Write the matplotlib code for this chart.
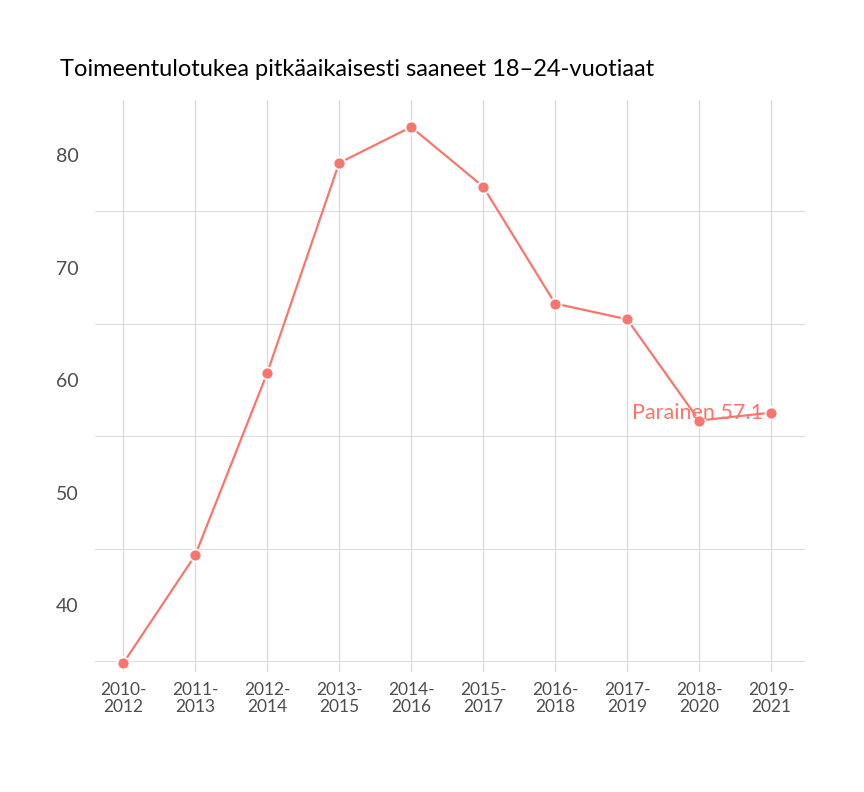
import matplotlib
matplotlib.use("Agg")
import matplotlib.pyplot as plt

periods = ["2010-\n2012","2011-\n2013","2012-\n2014","2013-\n2015","2014-\n2016",
           "2015-\n2017","2016-\n2018","2017-\n2019","2018-\n2020","2019-\n2021"]
values = [34.8, 44.4, 60.6, 79.3, 82.5, 77.2, 66.8, 65.4, 56.4, 57.1]
label = "Parainen 57.1"
title = "Toimeentulotukea pitkäaikaisesti saaneet 18–24-vuotiaat"

plt.rcParams['font.family'] = ['Lato', 'DejaVu Sans']
fig = plt.figure(figsize=(8.64, 7.92), dpi=100)
ax = fig.add_axes([95/864, 1-672/792, 710/864, 572/792])
col = "#F8766D"
x = list(range(len(values)))
ax.plot(x, values, color=col, lw=1.6, zorder=3)
ax.scatter(x, values, s=75, color=col, edgecolor="white", linewidth=1.3, zorder=4)
ax.text(x[-1]-0.12, values[-1], label, color=col, fontsize=15.5, ha="right", va="center", zorder=5)

ax.set_xlim(-0.39, 9.47)
ax.set_ylim(34.04, 84.9)
ax.set_xticks(x)
ax.set_xticklabels(periods, fontsize=12.5, color="#4d4d4d", linespacing=1.1)
ax.set_yticks([40, 50, 60, 70, 80])
ax.set_yticks([35, 45, 55, 65, 75], minor=True)
ax.tick_params(axis="y", labelsize=14, colors="#4d4d4d", length=0, which="both", pad=12)
ax.tick_params(axis="x", length=0, pad=7)
ax.grid(True, which="minor", axis="y", color="#dddddd", lw=0.8)
ax.grid(True, which="major", axis="x", color="#d6d6d6", lw=0.8)
for s in ax.spines.values():
    s.set_visible(False)
ax.set_axisbelow(True)
fig.text(60/864, 1-70/792, title, fontsize=17, va="center", ha="left", color="black")
fig.savefig("out.png", dpi=100)
